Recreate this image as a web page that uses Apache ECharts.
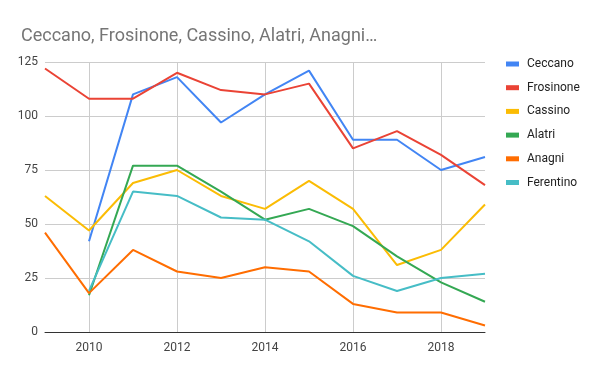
<!DOCTYPE html>
<html><head><meta charset="utf-8">
<script src="https://cdn.jsdelivr.net/npm/echarts@6/dist/echarts.min.js"></script>
<style>html,body{margin:0;padding:0;background:#fff}#c{width:600px;height:371px}</style>
</head><body><div id="c"></div>
<script>
const years = ['2009','2010','2011','2012','2013','2014','2015','2016','2017','2018','2019'];
const ceccano   = [null, 42, 110, 118, 97, 110, 121, 89, 89, 75, 81];
const frosinone = [122, 108, 108, 120, 112, 110, 115, 85, 93, 82, 68];
const cassino   = [63, 47, 69, 75, 63, 57, 70, 57, 31, 38, 59];
const alatri    = [null, 17, 77, 77, 65, 52, 57, 49, 35, 23, 14];
const anagni    = [46, 18, 38, 28, 25, 30, 28, 13, 9, 9, 3];
const ferentino = [null, 19, 65, 63, 53, 52, 42, 26, 19, 25, 27];
const yTicks = [0, 25, 50, 75, 100, 125];
const titleText = 'Ceccano, Frosinone, Cassino, Alatri, Anagni…';

const seriesDefs = [
  ['Ceccano', ceccano, '#4285F4'],
  ['Frosinone', frosinone, '#EA4335'],
  ['Cassino', cassino, '#FBBC04'],
  ['Alatri', alatri, '#34A853'],
  ['Anagni', anagni, '#FF6D01'],
  ['Ferentino', ferentino, '#46BDC6']
];
const font = 'Roboto, Arial, sans-serif';
const chart = echarts.init(document.getElementById('c'), null, {renderer: 'canvas'});
chart.setOption({
  animation: false,
  backgroundColor: '#fff',
  title: {text: titleText, left: 16, top: 22, textStyle: {fontFamily: font, fontSize: 18, fontWeight: 'normal', color: '#757575'}},
  legend: {
    orient: 'vertical', left: 501, top: 53, itemGap: 11.7, itemWidth: 13, itemHeight: 5,
    icon: 'rect',
    textStyle: {fontFamily: font, fontSize: 12, color: '#222', padding: [0, 0, 0, 3]},
    data: seriesDefs.map(s => s[0])
  },
  grid: {left: 45, right: 115, top: 62, bottom: 39},
  xAxis: {
    type: 'category', data: years, boundaryGap: false,
    axisLine: {show: true, lineStyle: {color: '#333', width: 1}},
    axisTick: {show: false},
    axisLabel: {interval: (i, v) => (+v) % 2 === 0, fontFamily: font, fontSize: 12, color: '#444', margin: 10},
    splitLine: {show: true, interval: (i, v) => (+v) % 2 === 0, lineStyle: {color: '#ccc', width: 1}}
  },
  yAxis: {
    type: 'value', min: yTicks[0], max: yTicks[yTicks.length - 1], interval: 25,
    axisLine: {show: false}, axisTick: {show: false},
    axisLabel: {fontFamily: font, fontSize: 12, color: '#444', margin: 7},
    splitLine: {lineStyle: {color: '#ccc', width: 1}}
  },
  series: seriesDefs.map(([name, data, color]) => ({
    name, type: 'line', data, showSymbol: false, symbol: 'none',
    lineStyle: {width: 2, color}, itemStyle: {color}, connectNulls: false
  }))
});
</script></body></html>
